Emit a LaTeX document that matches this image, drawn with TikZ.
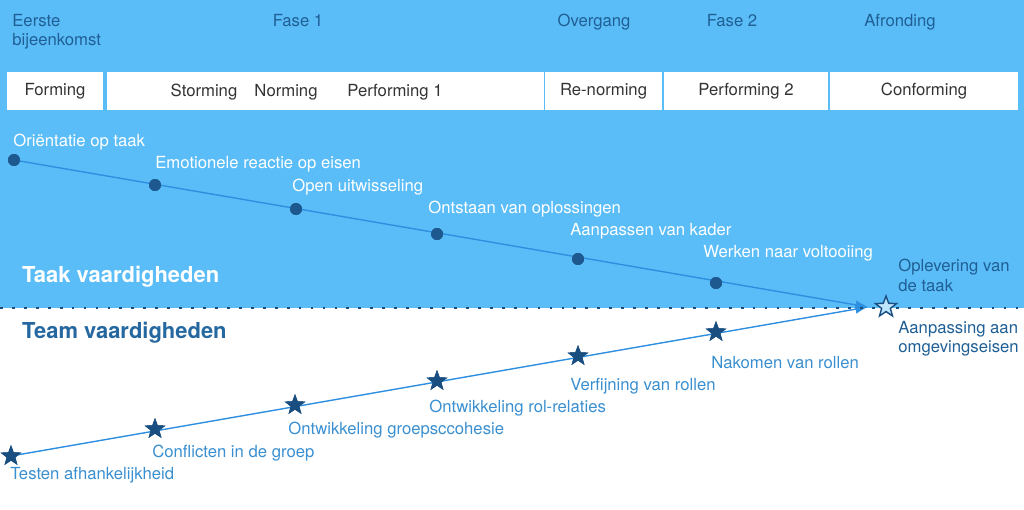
\documentclass[tikz,border=0pt]{standalone}
\usepackage{fontspec}
\setmainfont{TeX Gyre Heros}
\usetikzlibrary{positioning,shapes.geometric,arrows.meta}
\definecolor{skyblue}{HTML}{5BBDF8}
\definecolor{darkblue}{HTML}{1F5F95}
\definecolor{midblue}{HTML}{3A8FD0}
\definecolor{navy}{HTML}{1A4E80}
\definecolor{lineblue}{HTML}{2E8FE0}
\tikzstyle{phasebox}=[rectangle, fill=white, minimum height=0.76cm, inner sep=0pt, font=\fontsize{9.5}{11}\selectfont, text=black!80]
\tikzstyle{phase}=[anchor=north west, inner sep=0pt, text=darkblue, font=\fontsize{9.5}{11}\selectfont, align=left]
\tikzstyle{dot}=[circle, fill=navy!85!lineblue, minimum size=0.24cm, inner sep=0pt]
\tikzstyle{teamstar}=[star, star points=5, star point ratio=2.4, fill=navy, minimum size=0.44cm, inner sep=0pt]
\tikzstyle{tasklabel}=[anchor=south west, inner sep=0pt, text=white, font=\fontsize{9.5}{11}\selectfont]
\tikzstyle{teamlabel}=[anchor=north west, inner sep=0pt, text=midblue, font=\fontsize{9.5}{11}\selectfont]
\tikzstyle{line}=[lineblue, thick]
\begin{document}
\begin{tikzpicture}[x=0.02cm, y=-0.02cm]
\useasboundingbox (0,0) rectangle (1024,510);
\fill[skyblue] (0,0) rectangle (1024,308);

% phases
\node (p0) [phase] at (12,14) {Eerste\\bijeenkomst};
\node (p1) [phase, anchor=north] at (298,14) {Fase 1};
\node (p2) [phase, anchor=north] at (594,14) {Overgang};
\node (p3) [phase, anchor=north] at (732,14) {Fase 2};
\node (p4) [phase, anchor=north] at (900,14) {Afronding};

% stage bar
\node (b0) [phasebox, minimum width=1.94cm] at (55,91) {Forming};
\node (b1) [phasebox, minimum width=8.74cm] at (325.5,91) {};
\node (b2) [phasebox, minimum width=2.34cm] at (603.5,91) {Re-norming};
\node (b3) [phasebox, minimum width=3.28cm] at (746,91) {Performing 2};
\node (b4) [phasebox, minimum width=3.76cm] at (924,91) {Conforming};
\node (st) [text=black!80, font=\fontsize{9.5}{11}\selectfont] at (204,92) {Storming};
\node (no) [text=black!80, font=\fontsize{9.5}{11}\selectfont] at (286,92) {Norming};
\node (pe) [text=black!80, font=\fontsize{9.5}{11}\selectfont] at (395,92) {Performing 1};

% task line
\coordinate (end) at (868,307);
\node (t1) [dot] at (14,160) {};
\node (t2) [dot] at (155,185) {};
\node (t3) [dot] at (296,209) {};
\node (t4) [dot] at (437,234) {};
\node (t5) [dot] at (578,259) {};
\node (t6) [dot] at (716,283) {};
\draw[line, -{Latex[length=2.5mm]}] (t1.center) -- (end);
\foreach \n in {1,...,6} \node[dot] at (t\n) {};

\node [tasklabel] at (13,150) {Oriëntatie op taak};
\node [tasklabel] at (155,172) {Emotionele reactie op eisen};
\node [tasklabel] at (292,195) {Open uitwisseling};
\node [tasklabel] at (428,217) {Ontstaan van oplossingen};
\node [tasklabel] at (570,239) {Aanpassen van kader};
\node [tasklabel] at (703,261) {Werken naar voltooiing};

% team line
\node (s1) [teamstar] at (11,456) {};
\node (s2) [teamstar] at (155,429) {};
\node (s3) [teamstar] at (295,405) {};
\node (s4) [teamstar] at (437,381) {};
\node (s5) [teamstar] at (578,356) {};
\node (s6) [teamstar] at (716,332) {};
\draw[line, -{Latex[length=2.5mm]}] (s1.center) -- (end);
\foreach \n in {1,...,6} \node[teamstar] at (s\n) {};

\node [teamlabel] at (10,467) {Testen afhankelijkheid};
\node [teamlabel] at (152,445) {Conflicten in de groep};
\node [teamlabel] at (288,422) {Ontwikkeling groepsccohesie};
\node [teamlabel] at (429,400) {Ontwikkeling rol-relaties};
\node [teamlabel] at (570,378) {Verfijning van rollen};
\node [teamlabel] at (711,356) {Nakomen van rollen};

% separator
\draw[navy, line width=1.6pt, dash pattern=on 1.6pt off 5.2pt] (0,308) -- (1024,308);
\node (goal) [star, star points=5, star point ratio=2.4, draw=navy, fill=skyblue!40, thick, minimum size=0.44cm, inner sep=0pt] at (886,307) {};

\node [phase] at (898,259) {Oplevering van\\de taak};
\node [phase] at (898,321) {Aanpassing aan\\omgevingseisen};

\node (taak) [anchor=west, text=white, font=\bfseries\fontsize{12.5}{14}\selectfont] at (16,277) {Taak vaardigheden};
\node (team) [anchor=west, text=darkblue!90!skyblue, font=\bfseries\fontsize{12.5}{14}\selectfont] at (16,333) {Team vaardigheden};
\end{tikzpicture}
\end{document}
